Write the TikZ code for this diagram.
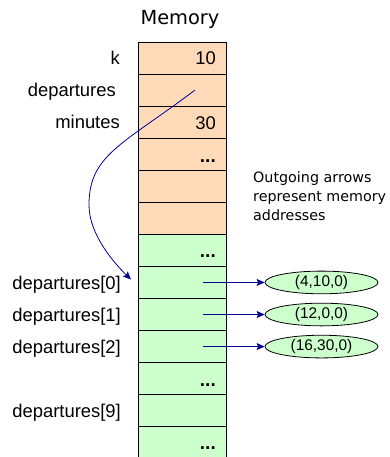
\documentclass[tikz,border=0pt]{standalone}
\usepackage{fontspec}
\setmainfont{Liberation Sans}
\newfontfamily\comicfont{DejaVu Sans}
\usetikzlibrary{arrows.meta,shapes.geometric}
\definecolor{peach}{RGB}{255,218,185}
\definecolor{mint}{RGB}{204,255,204}
\definecolor{navyline}{RGB}{0,0,150}
\begin{document}
\begin{tikzpicture}[x=1pt,y=-1pt,
  cell/.style={draw=black,line width=0.9pt,minimum width=87.5pt,minimum height=32.06pt,inner sep=0pt,outer sep=0pt},
  lbl/.style={anchor=base east,font=\fontsize{18.4}{20}\selectfont,inner sep=0pt},
  val/.style={anchor=base east,font=\fontsize{18.4}{20}\selectfont,inner sep=0pt},
  dots/.style={anchor=base east,font=\bfseries\fontsize{19}{20}\selectfont,inner sep=0pt},
  ell/.style={ellipse,draw=black,line width=0.8pt,fill=mint,minimum width=113pt,minimum height=22.7pt,inner sep=0pt,font=\fontsize{15.4}{16}\selectfont},
  ptr/.style={draw=navyline,line width=0.8pt,-{Stealth[length=8pt,width=7pt,inset=1.5pt]}},
  note/.style={anchor=base west,font=\comicfont\fontsize{14.3}{16}\selectfont,inner sep=0pt}]
\useasboundingbox (0,0) rectangle (389,457);
% open bottom row
\node[cell,draw=none,fill=mint,minimum height=40pt,anchor=north] (r12) at (182.25,{42+32.06*12}) {};
\draw[line width=0.9pt] (r12.north west) -- (r12.south west) (r12.north east) -- (r12.south east);
\foreach \i in {0,...,5}
  \node[cell,fill=peach] (r\i) at (182.25,{42+32.06*(\i+0.5)}) {};
\foreach \i in {6,...,11}
  \node[cell,fill=mint] (r\i) at (182.25,{42+32.06*(\i+0.5)}) {};
% title
\node[font=\comicfont\fontsize{19.4}{20}\selectfont,inner sep=0pt] (title) at (180,19) {Memory};
% labels
\node[lbl] (lk) at ([shift={(-18.5,6.7)}]r0.west) {k};
\node[lbl] (ldep) at ([shift={(-22.5,6.7)}]r1.west) {departures};
\node[lbl] (lmin) at ([shift={(-18.5,6.7)}]r2.west) {minutes};
\node[lbl] (ld0) at ([shift={(-17.5,6.7)}]r7.west) {departures[0]};
\node[lbl] (ld1) at ([shift={(-17.5,6.7)}]r8.west) {departures[1]};
\node[lbl] (ld2) at ([shift={(-17.5,6.7)}]r9.west) {departures[2]};
\node[lbl] (ld9) at ([shift={(-17.5,6.7)}]r11.west) {departures[9]};
% values
\node[val] (v0) at ([shift={(-10,6.9)}]r0.east) {10};
\node[val] (v2) at ([shift={(-10,6.9)}]r2.east) {30};
\node[dots] (d3) at ([shift={(-10,7.8)}]r3.east) {...};
\node[dots] (d6) at ([shift={(-10,7.2)}]r6.east) {...};
\node[dots] (d10) at ([shift={(-10,7.8)}]r10.east) {...};
\node[dots] (d12) at ([shift={(-10,7.2)}]r12.north east|-0,{42+32.06*12.5}) {...};
% note
\node[note] (n1) at (253,182) {Outgoing arrows};
\node[note] (n2) at (253,201.5) {represent memory};
\node[note] (n3) at (253,220.7) {addresses};
% ellipses
\node[ell] (e0) at (321.5,{42+32.06*7.5}) {(4,10,0)};
\node[ell] (e1) at (321.5,{42+32.06*8.5}) {(12,0,0)};
\node[ell] (e2) at (321.5,{42+32.06*9.5}) {(16,30,0)};
% arrows
\draw[ptr] ([xshift=20.5pt]r7.center) -- (e0.west);
\draw[ptr] ([xshift=20.5pt]r8.center) -- (e1.west);
\draw[ptr] ([xshift=20.5pt]r9.center) -- (e2.west);
\coordinate (tip) at ([shift={(-7.5,-3)}]r7.west);
\draw[ptr] ([xshift=12.75pt]r1.center) .. controls (122,145) and (89,155) .. (89,205)
  .. controls (89,235) and (115,264) .. (tip);
\end{tikzpicture}
\end{document}
